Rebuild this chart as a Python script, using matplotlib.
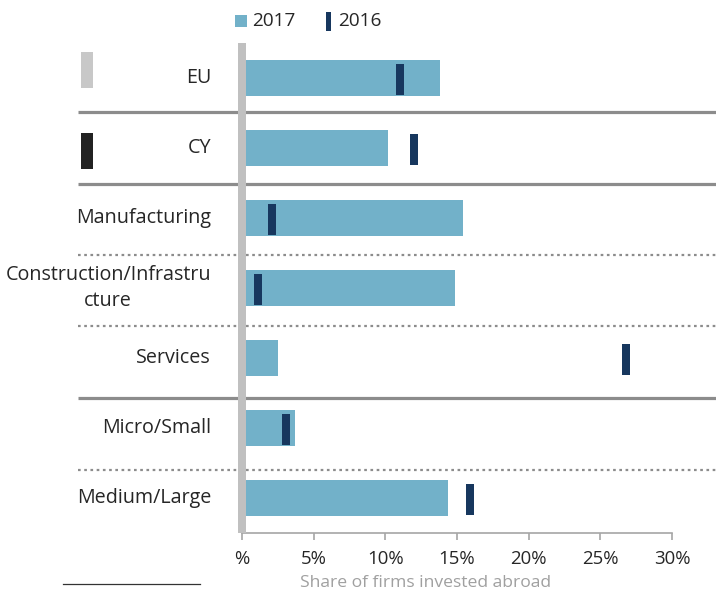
import matplotlib
matplotlib.use("Agg")
import matplotlib.pyplot as plt
from matplotlib.patches import Rectangle

categories = ["EU", "CY", "Manufacturing", "Construction/Infrastru\ncture",
              "Services", "Micro/Small", "Medium/Large"]
values_2017 = [13.8, 10.2, 15.4, 14.85, 2.5, 3.7, 14.4]
values_2016 = [11.0, 12.0, 2.1, 1.1, 26.8, 3.1, 15.9]
tick_values = [0, 5, 10, 15, 20, 25, 30]
tick_labels = ["%", "5%", "10%", "15%", "20%", "25%", "30%"]

plt.rcParams['font.family'] = ['Open Sans', 'DejaVu Sans']

BAR = "#72b1c9"
MARK = "#17375e"
SEP = "#8c8c8c"
TXT = "#262626"

fig = plt.figure(figsize=(7.16, 5.95), dpi=100)
ax = fig.add_axes([242/716, 62/595, 430/716, 490/595])

ypos = list(range(len(categories)))
ax.barh(ypos, values_2017, height=0.51, color=BAR, zorder=2)
mw = 0.55
ax.barh([y + 0.02 for y in ypos], [mw]*len(values_2016),
        left=[v - mw/2 for v in values_2016], height=0.44, color=MARK, zorder=3)

ax.set_xlim(0, 30)
ax.set_ylim(6.5, -0.5)

for s in ["top", "right", "left"]:
    ax.spines[s].set_visible(False)
ax.spines["bottom"].set_color("#a6a6a6")
ax.spines["bottom"].set_linewidth(1.2)
ax.set_xticks(tick_values)
ax.set_xticklabels(tick_labels)
ax.tick_params(axis="x", direction="out", length=5, width=1.2, color="#a6a6a6",
               labelsize=13.4, labelcolor=TXT, pad=7)
ax.set_yticks([])

# gray vertical band at 0
ax.add_patch(Rectangle((-0.28, -0.5), 0.56, 7.0, color="#c0c0c0", zorder=4,
                       clip_on=False, lw=0))

# labels
for y, c in zip(ypos, categories):
    ax.text(-2.16, y, c, ha="right", va="center", multialignment="center",
            fontsize=14.2, color=TXT, linespacing=1.4)

# separators
x0, x1 = (78 - 242) / 14.33, (716 - 242) / 14.33
solid_y = [0.48, 1.51, 4.57]
dotted_y = [2.53, 3.54, 5.6]
for y in solid_y:
    ax.plot([x0, x1], [y, y], color=SEP, lw=2.3, clip_on=False, zorder=1,
            solid_capstyle="butt")
for y in dotted_y:
    ax.plot([x0, x1], [y, y], color=SEP, lw=1.6, ls=(0, (1.2, 1.6)),
            clip_on=False, zorder=1)

# EU / CY swatches
fig.patches.append(Rectangle((80.5/716, 1 - 88/595), 12/716, 36/595,
                             transform=fig.transFigure, color="#c8c8c8", lw=0))
fig.patches.append(Rectangle((80.5/716, 1 - 169/595), 12/716, 36/595,
                             transform=fig.transFigure, color="#222222", lw=0))

# legend
fig.patches.append(Rectangle((235/716, 1 - 27/595), 12/716, 12/595,
                             transform=fig.transFigure, color=BAR, lw=0))
fig.text(252/716, 1 - 21/595, "2017", ha="left", va="center", fontsize=13.7, color=TXT)
fig.patches.append(Rectangle((326/716, 1 - 31/595), 5/716, 19/595,
                             transform=fig.transFigure, color=MARK, lw=0))
fig.text(338/716, 1 - 21/595, "2016", ha="left", va="center", fontsize=13.7, color=TXT)

# x label
fig.text(426/716, 1 - 583/595, "Share of firms invested abroad", ha="center",
         va="center", fontsize=12.6, color="#a0a0a0")

# short footnote line
fig.add_artist(plt.Line2D([63/716, 200/716], [1 - 584/595, 1 - 584/595],
                          transform=fig.transFigure, color="#333333", lw=0.9))

fig.savefig("out.png", dpi=100)
